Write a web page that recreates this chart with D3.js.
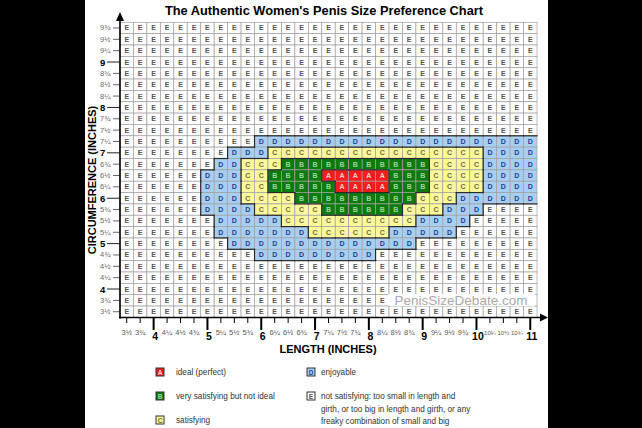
<!DOCTYPE html>
<html>
<head>
<meta charset="utf-8">
<script src="https://cdn.jsdelivr.net/npm/d3@7"></script>
<style>
body { margin: 0; background: #000; }
svg { display: block; font-family: Arial, "Liberation Sans", sans-serif; }
</style>
</head>
<body>
<svg id="chart" width="642" height="428"></svg>
<script>
const lengthLabels = ['3½','3¾','4','4¼','4½','4¾','5','5¼','5½','5¾','6','6¼','6½','6¾','7','7¼','7½','7¾',
                      '8','8¼','8½','8¾','9','9¼','9½','9¾','10','10¼','10½','10¾','11'];
const girthLabels = ['9¾','9½','9¼','9','8¾','8½','8¼','8','7¾','7½','7¼','7','6¾','6½','6¼','6',
                     '5¾','5½','5¼','5','4¾','4½','4¼','4','3¾','3½'];

// one string per girth row (top to bottom), one letter per length column; spaces only split the runs
const ratingRows = [
    'EEEEEEEEEE EEEEEEEEEE EEEEEEEEEE E',
    'EEEEEEEEEE EEEEEEEEEE EEEEEEEEEE E',
    'EEEEEEEEEE EEEEEEEEEE EEEEEEEEEE E',
    'EEEEEEEEEE EEEEEEEEEE EEEEEEEEEE E',
    'EEEEEEEEEE EEEEEEEEEE EEEEEEEEEE E',
    'EEEEEEEEEE EEEEEEEEEE EEEEEEEEEE E',
    'EEEEEEEEEE EEEEEEEEEE EEEEEEEEEE E',
    'EEEEEEEEEE EEEEEEEEEE EEEEEEEEEE E',
    'EEEEEEEEEE EEEEEEEEEE EEEEEEEEEE E',
    'EEEEEEEEEE EEEEEEEEEE EEEEEEEEEE E',
    'EEEEEEEEEE DDDDDDDDDD DDDDDDDDDD D',
    'EEEEEEEE DDD CCCCCCCCCC CCCCCC DDDD',
    'EEEEEEE DD CCC BBBBBBBBBB B CCCC DDDD',
    'EEEEEE DDD CC BBBB AAAAA BBB CCCC DDDD',
    'EEEEEE DDD CC BBBBB AAAA BBB CCCC DDDD',
    'EEEEEE DDD CCCC BBBBB BBBB CCC DDDDDD',
    'EEEEEE DDDD CCCCC BBBBBB CCC DDD EEEE',
    'EEEEEEE DDDDD CCCCCCCCCC DDDD EEEEE',
    'EEEEEEE DDDDDDD CCCCCC DDDDD EEEEEE',
    'EEEEEEEE DDDDDDDDDD DDDD EEEEEEEEE',
    'EEEEEEEEEE DDDDDDDDD EEEEEEEEEE EE',
    'EEEEEEEEEE EEEEEEEEEE EEEEEEEEEE E',
    'EEEEEEEEEE EEEEEEEEEE EEEEEEEEEE E',
    'EEEEEEEEEE EEEEEEEEEE EEEEEEEEEE E',
    'EEEEEEEEEE EEEEEEEEEE EEEEEEEEEE E',
    'EEEEEEEEEE EEEEEEEEEE EEEEEEEEEE E'
];

const ratingKeys = ['A', 'B', 'C', 'D', 'E'];
const ratingText = [
    ['ideal (perfect)'],
    ['very satisfying but not ideal'],
    ['satisfying'],
    ['enjoyable'],
    ['not satisfying: too small in length and', 'girth, or too big in length and girth, or any', 'freaky combination of small and big']
];

const fillColor = d3.scaleOrdinal().domain(ratingKeys)
    .range(['#f51d1d', '#0b7b0b', '#fcf89c', '#a8cff1', '#ffffff']);
const letterColor = d3.scaleOrdinal().domain(ratingKeys)
    .range(['#ffd0d0', '#9fd39f', '#6b6b3a', '#1f3f8f', '#555555']);

const grid = ratingRows.map(r => r.replace(/ /g, '').split(''));
grid.forEach((r, i) => {
    if (r.length != lengthLabels.length) throw new Error('row ' + girthLabels[i] + ' has ' + r.length);
});

const cells = [];
grid.forEach((row, r) => row.forEach((k, c) => {
    cells.push({ girth: girthLabels[r], length: lengthLabels[c], key: k, r: r, c: c });
}));

const isWhole = s => /^\d+$/.test(s);

const svg = d3.select('#chart');

// white page area between the black bands
svg.append('rect').attr('x', 85).attr('y', 0).attr('width', 463).attr('height', 428).attr('fill', '#fff');

const x = d3.scaleBand().domain(lengthLabels).range([120, 537]);
const y = d3.scaleBand().domain(girthLabels).range([22.3, 317.4]);

svg.append('text')
    .attr('x', 324).attr('y', 15)
    .attr('text-anchor', 'middle')
    .attr('font-size', 12.8).attr('font-weight', 'bold')
    .text("The Authentic Women's Penis Size Preference Chart");

const cellG = svg.append('g');

cellG.selectAll('rect')
    .data(cells)
    .join('rect')
    .attr('x', d => x(d.length))
    .attr('y', d => y(d.girth))
    .attr('width', x.bandwidth())
    .attr('height', y.bandwidth())
    .attr('fill', d => fillColor(d.key))
    .attr('stroke', '#a0a0a0')
    .attr('stroke-width', 0.7);

cellG.selectAll('text')
    .data(cells)
    .join('text')
    .attr('x', d => x(d.length) + x.bandwidth() / 2)
    .attr('y', d => y(d.girth) + y.bandwidth() / 2 + 2.5)
    .attr('text-anchor', 'middle')
    .attr('font-size', 7)
    .attr('font-weight', 'bold')
    .attr('fill', d => letterColor(d.key))
    .text(d => d.key);

// dark outlines where the rating changes
const edges = [];
cells.forEach(d => {
    if (d.c < lengthLabels.length - 1 && grid[d.r][d.c + 1] != d.key) {
        const xx = x(d.length) + x.bandwidth();
        edges.push([xx, y(d.girth), xx, y(d.girth) + y.bandwidth()]);
    }
    if (d.r < girthLabels.length - 1 && grid[d.r + 1][d.c] != d.key) {
        const yy = y(d.girth) + y.bandwidth();
        edges.push([x(d.length), yy, x(d.length) + x.bandwidth(), yy]);
    }
});
svg.append('g').selectAll('line')
    .data(edges)
    .join('line')
    .attr('x1', d => d[0]).attr('y1', d => d[1])
    .attr('x2', d => d[2]).attr('y2', d => d[3])
    .attr('stroke', '#2a2a2a')
    .attr('stroke-width', 1.2)
    .attr('stroke-linecap', 'square');

// watermark
svg.append('rect').attr('x', 388).attr('y', 294).attr('width', 147).attr('height', 12).attr('fill', '#fff');
svg.append('text')
    .attr('x', 461).attr('y', 304.5)
    .attr('text-anchor', 'middle')
    .attr('font-size', 13.5)
    .attr('fill', '#a9a9a9')
    .text('PenisSizeDebate.com');

// y axis
const yAxis = svg.append('g');
yAxis.selectAll('line')
    .data(girthLabels)
    .join('line')
    .attr('x1', d => isWhole(d) ? 107 : 113)
    .attr('x2', 120)
    .attr('y1', d => y(d) + y.bandwidth() / 2)
    .attr('y2', d => y(d) + y.bandwidth() / 2)
    .attr('stroke', d => isWhole(d) ? '#222' : '#666')
    .attr('stroke-width', 1);
yAxis.selectAll('text')
    .data(girthLabels)
    .join('text')
    .attr('x', 100)
    .attr('y', d => y(d) + y.bandwidth() / 2 + (isWhole(d) ? 3.5 : 2.5))
    .attr('font-size', d => isWhole(d) ? 9.5 : 7.5)
    .attr('font-weight', d => isWhole(d) ? 'bold' : 'normal')
    .attr('fill', d => isWhole(d) ? '#000' : '#6a6a6a')
    .text(d => d);
svg.append('line').attr('x1', 120).attr('x2', 120).attr('y1', 20).attr('y2', 318.5)
    .attr('stroke', '#000').attr('stroke-width', 1.6);
svg.append('path').attr('d', 'M120,12L116,21L124,21Z').attr('fill', '#000');

// x axis
const xAxis = svg.append('g');
xAxis.selectAll('line')
    .data(lengthLabels)
    .join('line')
    .attr('x1', d => x(d) + x.bandwidth() / 2)
    .attr('x2', d => x(d) + x.bandwidth() / 2)
    .attr('y1', 317.5)
    .attr('y2', d => isWhole(d) ? 330 : 323)
    .attr('stroke', '#000')
    .attr('stroke-width', d => isWhole(d) ? 2 : 1);
xAxis.selectAll('text')
    .data(lengthLabels)
    .join('text')
    .attr('x', d => x(d) + x.bandwidth() / 2 + (isWhole(d) ? 1.5 : 0))
    .attr('y', d => isWhole(d) ? 340 : 335)
    .attr('text-anchor', 'middle')
    .attr('font-size', d => isWhole(d) ? 10.5 : (d.length > 2 ? 6 : 7.5))
    .attr('font-weight', d => isWhole(d) ? 'bold' : 'normal')
    .attr('fill', d => isWhole(d) ? '#000' : '#5a5a5a')
    .text(d => d);
svg.append('line').attr('x1', 119).attr('x2', 541).attr('y1', 317.5).attr('y2', 317.5)
    .attr('stroke', '#000').attr('stroke-width', 1.6);
svg.append('path').attr('d', 'M548,317.5L540,313.5L540,321.5Z').attr('fill', '#000');

svg.append('text')
    .attr('x', 328).attr('y', 353)
    .attr('text-anchor', 'middle')
    .attr('font-size', 11).attr('font-weight', 'bold')
    .text('LENGTH  (INCHES)');
svg.append('text')
    .attr('transform', 'translate(96,180) rotate(-90)')
    .attr('text-anchor', 'middle')
    .attr('font-size', 11).attr('font-weight', 'bold')
    .text('CIRCUMFERENCE (INCHES)');

// legend: A B C in the left column, D E in the right one
const legendPos = [[156, 368], [156, 392], [156, 416], [307, 368], [307, 392]];
const legendGap = [20, 20, 20, 14, 14];
const legend = svg.append('g').selectAll('g')
    .data(ratingKeys)
    .join('g')
    .attr('transform', (d, i) => `translate(${legendPos[i][0]},${legendPos[i][1]})`);
legend.append('rect')
    .attr('width', 8).attr('height', 8)
    .attr('fill', d => fillColor(d))
    .attr('stroke', '#333').attr('stroke-width', 1);
legend.append('text')
    .attr('x', 4).attr('y', 6.5)
    .attr('text-anchor', 'middle')
    .attr('font-size', 6.5).attr('font-weight', 'bold')
    .attr('fill', d => letterColor(d))
    .text(d => d);
legend.each(function(d, i) {
    d3.select(this).selectAll('text.desc')
        .data(ratingText[i])
        .join('text')
        .attr('class', 'desc')
        .attr('x', legendGap[i])
        .attr('y', (t, j) => 7 + j * 12.5)
        .attr('font-size', 8.2)
        .attr('fill', '#333')
        .text(t => t);
});
</script>
</body>
</html>
